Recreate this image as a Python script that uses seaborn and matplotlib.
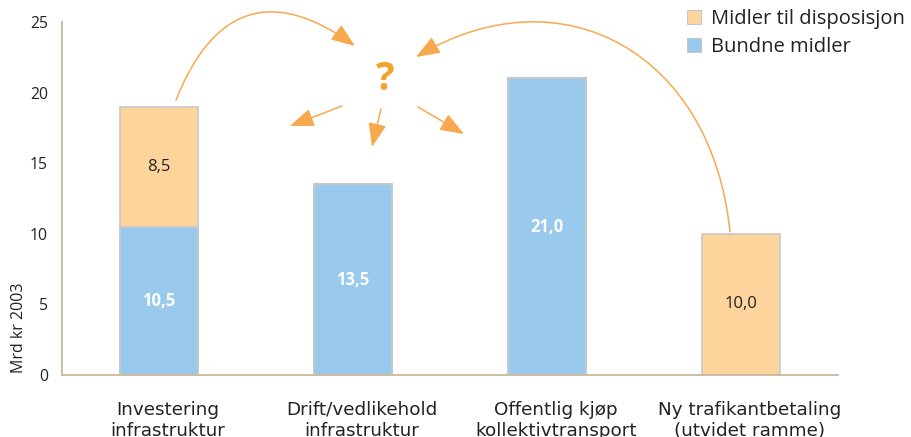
import matplotlib
matplotlib.use("Agg")
import matplotlib.pyplot as plt
import seaborn as sns
from matplotlib.patches import Patch, FancyArrowPatch
from matplotlib.path import Path

categories = ["Investering\ninfrastruktur", "Drift/vedlikehold\ninfrastruktur",
              "Offentlig kjøp\nkollektivtransport", "Ny trafikantbetaling\n(utvidet ramme)"]
bundne = [10.5, 13.5, 21.0, 0.0]
disposisjon = [8.5, 0.0, 0.0, 10.0]
series_names = ["Midler til disposisjon", "Bundne midler"]
yticks = [0, 5, 10, 15, 20, 25]

ORANGE = "#FDD49B"
BLUE = "#99C9EC"
EDGE = "#C8C8C8"
AXIS = "#C9B99A"
ARROW = "#F8A94E"
TXT = "#222222"

sns.set_style("white")
plt.rcParams["font.family"] = ["Open Sans", "DejaVu Sans"]

fig = plt.figure(figsize=(9.12, 4.37), dpi=100)
AX_L, AX_R, AX_B, AX_T = 62, 838, 375, 22
ax = fig.add_axes([AX_L / 912, 1 - AX_B / 437, (AX_R - AX_L) / 912, (AX_B - AX_T) / 437])

totals = [b + d for b, d in zip(bundne, disposisjon)]
sns.barplot(x=categories, y=totals, order=categories, color=ORANGE, saturation=1,
            width=0.4, edgecolor=EDGE, linewidth=1.2, ax=ax)
sns.barplot(x=categories, y=bundne, order=categories, color=BLUE, saturation=1,
            width=0.4, edgecolor=EDGE, linewidth=1.2, ax=ax)
for p in ax.patches:
    if p.get_height() == 0:
        p.set_visible(False)

ax.set_xlim(-0.5, 3.5)
ax.set_ylim(0, 25)
ax.set_yticks(yticks)
ax.set_yticklabels([str(t) for t in yticks], fontsize=11.3, color=TXT)
# category labels sit slightly right of the bar centres in the reference
ax.set_xticks([i + 0.045 for i in range(len(categories))])
ax.set_xticklabels(categories, fontsize=13.2, color=TXT, linespacing=1.27,
                   family=["DejaVu Sans"])
ax.set_xticks([i + 0.5 for i in range(-1, len(categories))], minor=True)
ax.tick_params(axis="x", which="major", length=0, pad=18.5)
ax.tick_params(axis="x", which="minor", length=6, color=AXIS, width=1, direction="out")
ax.tick_params(axis="y", length=4.5, color=AXIS, width=1, direction="out", pad=5.5)
for s in ["top", "right"]:
    ax.spines[s].set_visible(False)
for s in ["left", "bottom"]:
    ax.spines[s].set_color(AXIS)
    ax.spines[s].set_linewidth(1.3)
ax.grid(False)
ax.set_ylabel("")
fig.text(19 / 912, 1 - 328 / 437, "Mrd kr 2003", rotation=90, ha="center", va="center",
         fontsize=11.5, color=TXT)

# value labels
for i, (b, d) in enumerate(zip(bundne, disposisjon)):
    if b > 0:
        ax.text(i, b / 2, f"{b:.1f}".replace(".", ","), ha="center", va="center",
                color="white", fontsize=12, fontweight="bold")
    if d > 0:
        ax.text(i, b + d / 2, f"{d:.1f}".replace(".", ","), ha="center", va="center",
                color=TXT, fontsize=12)


# annotation helpers: pixel positions of the reference -> data coords
def px(x, y):
    return ((x - AX_L) / 194.0 - 0.5, (AX_B - y) / 14.12)


ax.text(*px(385, 80), "?", ha="center", va="center", fontsize=28, fontweight="bold",
        color="#F5A22D", clip_on=False)

style = "-|>,head_length=1.05,head_width=0.4"
akw = dict(arrowstyle=style, color=ARROW, lw=1.1, mutation_scale=14,
           transform=ax.transData, clip_on=False)

curves = [
    [(176, 100), (213, 7), (272, -14), (355, 46)],
    [(730, 232), (712, 53), (562, -30), (416, 57)],
]
for pts in curves:
    verts = [px(*p) for p in pts]
    path = Path(verts, [Path.MOVETO, Path.CURVE4, Path.CURVE4, Path.CURVE4])
    ax.add_patch(FancyArrowPatch(path=path, **akw))

straight = [((342, 106), (290, 126)), ((381, 109), (372, 147)), ((418, 107), (464, 134))]
for s, e in straight:
    ax.add_patch(FancyArrowPatch(px(*s), px(*e), shrinkA=0, shrinkB=0, **akw))

handles = [Patch(facecolor=ORANGE, edgecolor=EDGE, linewidth=0.8),
           Patch(facecolor=BLUE, edgecolor=EDGE, linewidth=0.8)]
fig.legend(handles, series_names, loc="upper left", bbox_to_anchor=(687 / 912, 1 - 9 / 437),
           frameon=False, fontsize=14.5, handlelength=0.7, handleheight=0.7,
           handletextpad=0.5, labelspacing=0.42, borderaxespad=0, borderpad=0,
           labelcolor=TXT)

fig.savefig("out.png", dpi=100)
